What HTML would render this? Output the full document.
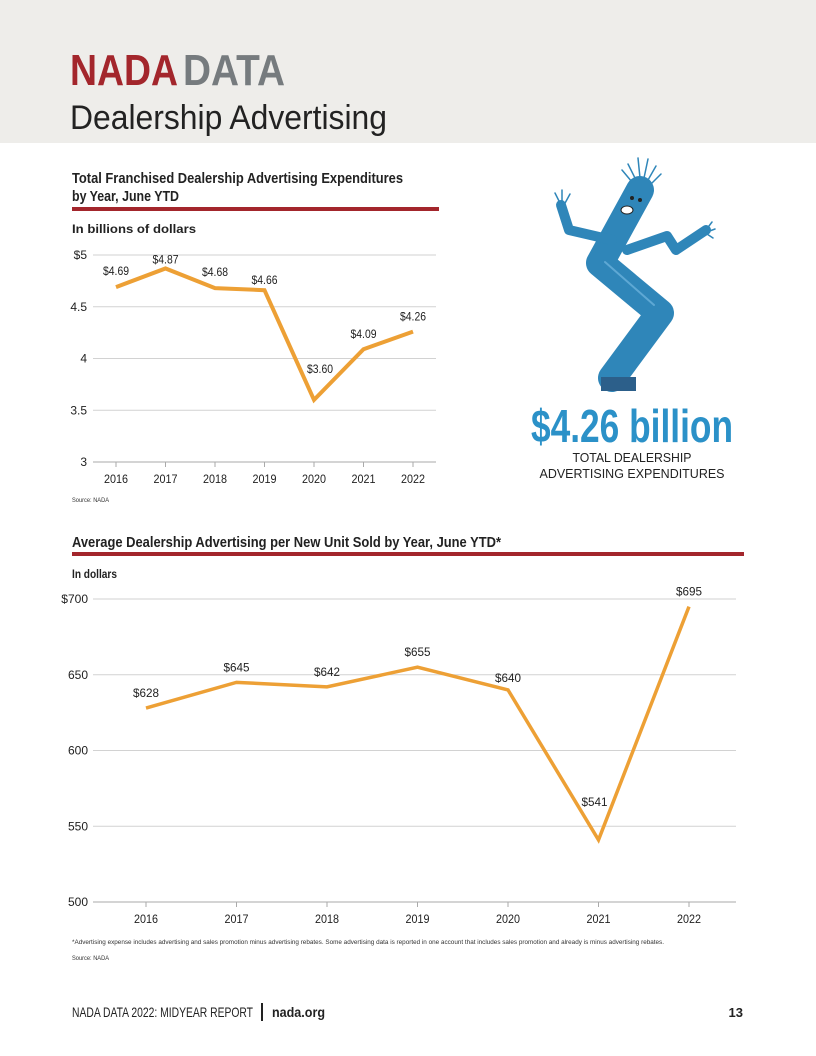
<!DOCTYPE html>
<html><head><meta charset="utf-8"><style>
body{margin:0;background:#fff}
svg{display:block}
text{font-family:"Liberation Sans Narrow","Liberation Sans",sans-serif}
</style></head><body>
<svg width="816" height="1056" viewBox="0 0 816 1056">
<rect x="0" y="0" width="816" height="143" fill="#eeedea"/>
<text x="70" y="85" font-size="44" font-weight="bold" fill="#a3262c" textLength="108" lengthAdjust="spacingAndGlyphs">NADA</text>
<text x="183" y="85" font-size="44" font-weight="bold" fill="#767b7e" textLength="102" lengthAdjust="spacingAndGlyphs">DATA</text>
<text x="70" y="129" font-size="34" fill="#222" font-family="Liberation Sans, sans-serif" textLength="317" lengthAdjust="spacingAndGlyphs">Dealership Advertising</text>

<text x="72" y="183" font-size="15" font-weight="bold" fill="#222" textLength="331" lengthAdjust="spacingAndGlyphs">Total Franchised Dealership Advertising Expenditures</text>
<text x="72" y="201" font-size="15" font-weight="bold" fill="#222" textLength="107" lengthAdjust="spacingAndGlyphs">by Year, June YTD</text>
<rect x="72" y="207" width="367" height="4" fill="#a3262c"/>
<text x="72" y="233" font-size="12" font-weight="bold" fill="#222" textLength="124" lengthAdjust="spacingAndGlyphs">In billions of dollars</text>
<g id="c1"></g>
<text x="72" y="502" font-size="6" fill="#333" textLength="37" lengthAdjust="spacingAndGlyphs">Source: NADA</text>

<g fill="none" stroke="#2f86b9" stroke-linecap="round" stroke-linejoin="round">
<path d="M640 190 L600 263 L660 313 L612 378" stroke-width="28"/>
<path d="M612 240 L569 230 L561 205" stroke-width="10"/>
<path d="M627 250 L667 236 L676 250 L706 230" stroke-width="10"/>
<g stroke-width="1.5"><path d="M636 180 l-8 -16 M640 178 l-2 -20 M644 178 l4 -19 M648 180 l8 -14 M651 184 l10 -10 M632 182 l-10 -12"/>
<path d="M561 205 l-6 -12 M562 204 l0 -14 M564 205 l6 -11 M706 230 l6 -8 M707 232 l8 -3 M707 234 l6 4"/></g>
<path d="M605 262 L654 305" stroke="#5ea8d4" stroke-width="2"/>
<ellipse cx="627" cy="210" rx="6" ry="4" fill="#fff" stroke="#222" stroke-width="1"/>
<circle cx="632" cy="198" r="2" fill="#222" stroke="none"/>
<circle cx="640" cy="200" r="2" fill="#222" stroke="none"/>
<rect x="601" y="377" width="35" height="14" fill="#2c5f8a" stroke="none"/>
</g>
<text x="632" y="442" font-size="46" font-weight="bold" fill="#2b91c8" text-anchor="middle" textLength="202" lengthAdjust="spacingAndGlyphs">$4.26 billion</text>
<text x="632" y="462" font-size="12.5" fill="#222" text-anchor="middle" textLength="119" lengthAdjust="spacingAndGlyphs">TOTAL DEALERSHIP</text>
<text x="632" y="478" font-size="12.5" fill="#222" text-anchor="middle" textLength="185" lengthAdjust="spacingAndGlyphs">ADVERTISING EXPENDITURES</text>

<text x="72" y="547" font-size="15" font-weight="bold" fill="#222" textLength="429" lengthAdjust="spacingAndGlyphs">Average Dealership Advertising per New Unit Sold by Year, June YTD*</text>
<rect x="72" y="552" width="672" height="4" fill="#a3262c"/>
<text x="72" y="578" font-size="12" font-weight="bold" fill="#222" textLength="45" lengthAdjust="spacingAndGlyphs">In dollars</text>
<g id="c2"></g>
<text x="72" y="944" font-size="6.5" fill="#333" textLength="592" lengthAdjust="spacingAndGlyphs">*Advertising expense includes advertising and sales promotion minus advertising rebates. Some advertising data is reported in one account that includes sales promotion and already is minus advertising rebates.</text>
<text x="72" y="960" font-size="6" fill="#333" textLength="37" lengthAdjust="spacingAndGlyphs">Source: NADA</text>

<text x="72" y="1017" font-size="14" fill="#222" textLength="181" lengthAdjust="spacingAndGlyphs">NADA DATA 2022: MIDYEAR REPORT</text>
<rect x="261" y="1003" width="2" height="18" fill="#222"/>
<text x="272" y="1017" font-size="14" font-weight="bold" fill="#222" textLength="53" lengthAdjust="spacingAndGlyphs">nada.org</text>
<text x="743" y="1017" font-size="13" font-weight="bold" fill="#222" text-anchor="end">13</text>
</svg>
<script>
const years = ["2016","2017","2018","2019","2020","2021","2022"];
const spendBillions = [4.69,4.87,4.68,4.66,3.60,4.09,4.26];
const spendLabels = ["$4.69","$4.87","$4.68","$4.66","$3.60","$4.09","$4.26"];
const ticks1 = [3,3.5,4,4.5,5];
const tickLabels1 = ["3","3.5","4","4.5","$5"];
const perUnit = [628,645,642,655,640,541,695];
const perUnitLabels = ["$628","$645","$642","$655","$640","$541","$695"];
const ticks2 = [500,550,600,650,700];
const tickLabels2 = ["500","550","600","650","$700"];

const NS="http://www.w3.org/2000/svg";
function mk(p,t,a){const e=document.createElementNS(NS,t);for(const k in a)e.setAttribute(k,a[k]);p.appendChild(e);return e;}
function draw(g,cfg){
  const y=v=>cfg.y0+(v-cfg.vmin)/(cfg.vmax-cfg.vmin)*(cfg.y1-cfg.y0);
  const x=i=>cfg.x0+i*cfg.dx;
  cfg.ticks.forEach((t,i)=>{
    const l=mk(g,"line",{x1:cfg.gx0,x2:cfg.gx1,y1:y(t),y2:y(t),stroke:i==0?"#aaa":"#d2d2d2","stroke-width":1});
    
    
    const tx=mk(g,"text",{x:cfg.lx,y:y(t)+4,"font-size":12,fill:"#222","text-anchor":"end"});
    tx.textContent=cfg.tickLabels[i];
    
    
  });
  years.forEach((yr,i)=>{
    const tk=mk(g,"line",{x1:x(i),x2:x(i),y1:cfg.y0,y2:cfg.y0+5,stroke:"#aaa"});
    
    
    const t=mk(g,"text",{x:x(i),y:cfg.y0+21,"font-size":12,fill:"#222","text-anchor":"middle",textLength:24,lengthAdjust:"spacingAndGlyphs"});
    t.textContent=yr;
    
    
  });
  const pts=cfg.vals.map((v,i)=>x(i)+","+y(v)).join(" ");
  const pl=mk(g,"polyline",{points:pts,fill:"none",stroke:"#eda035","stroke-width":cfg.sw,"stroke-linejoin":"miter"});
  
  
  cfg.vals.forEach((v,i)=>{
    const t=mk(g,"text",{x:x(i)+cfg.ldx[i],y:y(v)-cfg.loff[i],"font-size":12,fill:"#222","text-anchor":"middle",textLength:26,lengthAdjust:"spacingAndGlyphs"});
    t.textContent=cfg.labels[i];
    
    
  });
}
draw(document.getElementById("c1"),{vals:spendBillions,labels:spendLabels,ticks:ticks1,tickLabels:tickLabels1,vmin:3,vmax:5,y0:462,y1:255,x0:116,dx:49.5,gx0:93,gx1:436,lx:87,sw:4,loff:[12,5,12,6,27,11,11],ldx:[0,0,0,0,6,0,0]});
draw(document.getElementById("c2"),{vals:perUnit,labels:perUnitLabels,ticks:ticks2,tickLabels:tickLabels2,vmin:500,vmax:700,y0:902,y1:599,x0:146,dx:90.5,gx0:93,gx1:736,lx:88,sw:3.5,loff:[11,11,11,11,8,34,11],ldx:[0,0,0,0,0,-4,0]});
</script>
</body></html>
